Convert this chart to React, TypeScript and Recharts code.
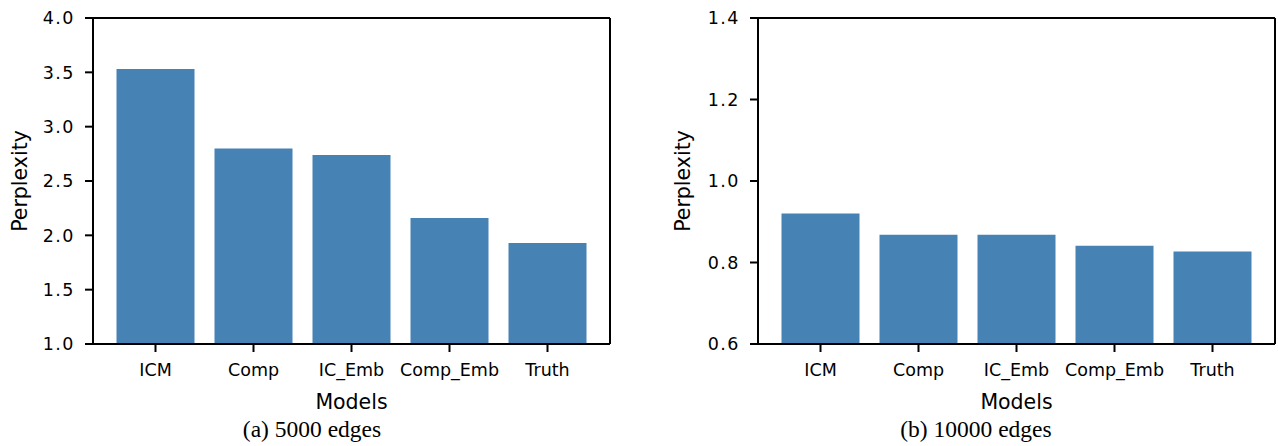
import { BarChart, Bar, XAxis, YAxis } from "recharts";

const models = ["ICM", "Comp", "IC_Emb", "Comp_Emb", "Truth"];
const perplexity5000 = [3.53, 2.8, 2.74, 2.16, 1.93];
const perplexity10000 = [0.92, 0.868, 0.868, 0.841, 0.827];
const ticks5000 = [1.0, 1.5, 2.0, 2.5, 3.0, 3.5, 4.0];
const ticks10000 = [0.6, 0.8, 1.0, 1.2, 1.4];

const BAR = "#4682b4";
const SANS = "DejaVu Sans";
const line = { stroke: "#000", strokeWidth: 2 };

function YTitle({ viewBox, pos }: any) {
  const cx = viewBox.x + pos;
  const cy = viewBox.y + viewBox.height / 2;
  return (
    <text
      x={cx}
      y={cy}
      transform={`rotate(-90, ${cx}, ${cy})`}
      textAnchor="middle"
      dominantBaseline="central"
      fontFamily={SANS}
      fontSize={20.5}
      fill="#000"
    >
      Perplexity
    </text>
  );
}

function XTitle({ viewBox }: any) {
  return (
    <text
      x={viewBox.x + viewBox.width / 2}
      y={viewBox.y + 65}
      textAnchor="middle"
      fontFamily={SANS}
      fontSize={20.5}
      fill="#000"
    >
      Models
    </text>
  );
}

function Panel({ values, ticks, left, width, yWidth, marginRight, titlePos, caption, captionX }: any) {
  const data = models.map((name, i) => ({ name, value: values[i] }));
  const domain = [ticks[0], ticks[ticks.length - 1]];
  return (
    <div style={{ position: "absolute", left, top: 0, width, height: 446 }}>
      <BarChart
        width={width}
        height={446}
        data={data}
        margin={{ top: 17, right: marginRight, bottom: 42, left: 0 }}
      >
        <XAxis
          dataKey="name"
          height={60}
          padding={{ left: 13.5, right: 13.5 }}
          axisLine={line}
          tickLine={line}
          tickSize={8}
          tickMargin={12}
          tick={{ fontFamily: SANS, fontSize: 17.5, fill: "#000" }}
          label={<XTitle />}
        />
        {/* top spine */}
        <XAxis
          xAxisId="top"
          orientation="top"
          dataKey="name"
          height={1}
          tick={false}
          tickLine={false}
          axisLine={line}
        />
        <YAxis
          width={yWidth}
          type="number"
          domain={domain}
          ticks={ticks}
          allowDataOverflow
          axisLine={line}
          tickLine={line}
          tickSize={8}
          tickMargin={10}
          tickFormatter={(v: number) => v.toFixed(1)}
          tick={{ fontFamily: SANS, fontSize: 17.5, fill: "#000", letterSpacing: 1.5 }}
          label={<YTitle pos={titlePos} />}
        />
        {/* right spine */}
        <YAxis
          yAxisId="r"
          orientation="right"
          type="number"
          domain={[0, 1]}
          width={1}
          tick={false}
          tickLine={false}
          axisLine={line}
        />
        <Bar dataKey="value" fill={BAR} barSize={78} isAnimationActive={false} />
      </BarChart>
      <div
        style={{
          position: "absolute",
          left: captionX - 200,
          top: 418,
          width: 400,
          textAlign: "center",
          fontFamily: "Liberation Serif",
          fontSize: 23.5,
          lineHeight: "23px",
          color: "#000",
        }}
      >
        {caption}
      </div>
    </div>
  );
}

export default function App() {
  return (
    <div style={{ position: "absolute", left: 0, top: 0, width: 1278, height: 446, background: "#fff" }}>
      <Panel
        values={perplexity5000}
        ticks={ticks5000}
        left={0}
        width={640}
        yWidth={93}
        marginRight={29}
        titlePos={19.5}
        caption="(a) 5000 edges"
        captionX={312}
      />
      <Panel
        values={perplexity10000}
        ticks={ticks10000}
        left={640}
        width={638}
        yWidth={118}
        marginRight={2}
        titlePos={43}
        caption="(b) 10000 edges"
        captionX={336}
      />
    </div>
  );
}
